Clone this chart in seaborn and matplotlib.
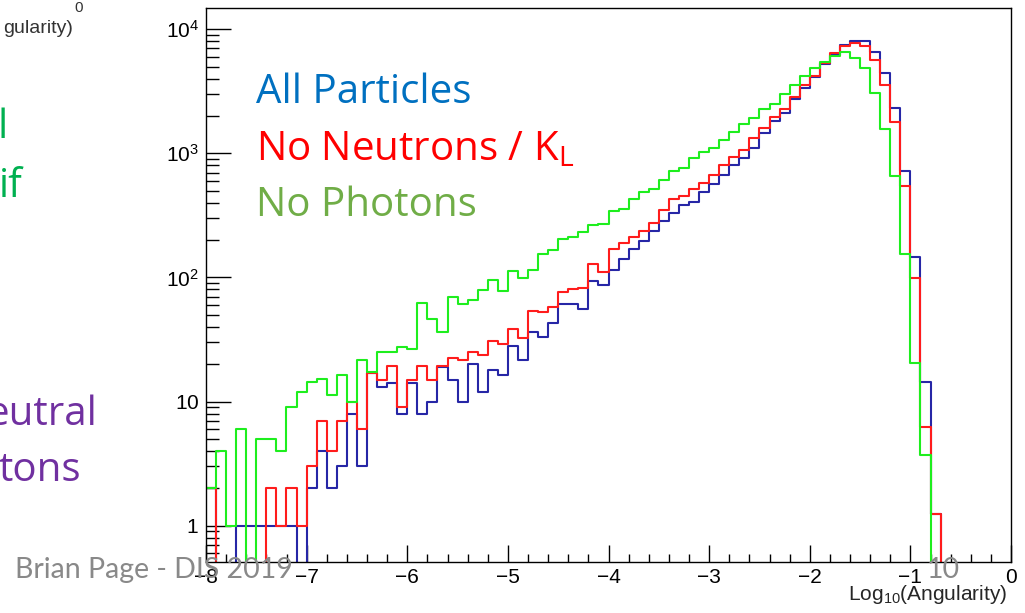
import numpy as np
import pandas as pd
import matplotlib
matplotlib.use("Agg")
import matplotlib.pyplot as plt
from matplotlib.ticker import FixedLocator, FixedFormatter, LogLocator, MultipleLocator, NullFormatter
import seaborn as sns

# ---------------- data ----------------
x_min, x_max, n_bins = -8.0, 0.0, 80

all_particles = [
    2, 0, 0, 1, 1, 1, 1, 1, 1, 0,
    2, 4, 2, 3, 8, 3, 17, 13, 14, 8,
    14, 8, 10, 19, 15, 10, 20, 12, 18, 16.5,
    28, 21.5, 36, 33, 43, 61, 61, 56, 93, 87,
    115, 141, 170, 196, 236, 284, 333, 381, 405, 492,
    566, 665, 800, 923, 1112, 1449, 1823, 2129, 2724, 3380,
    4100, 5220, 6170, 7430, 8050, 8050, 6490, 4420, 2306, 720,
    147, 14.3, 1.25, 0, 0, 0, 0, 0, 0, 0,
]
no_neutrons = [
    2, 0, 0, 0, 0, 0, 2, 1, 2, 1,
    3, 7, 4, 7, 10, 6, 17, 15, 19.5, 9,
    15, 19.5, 15, 19.5, 22.5, 21.7, 25, 23.5, 30.7, 29.3,
    38.3, 32.6, 54, 53, 57.6, 77, 80, 82.6, 129, 110,
    169, 188, 211, 236, 276, 347, 425, 453, 512, 577,
    665, 800, 940, 1057, 1338, 1611, 1977, 2293, 2843, 3533,
    4200, 5290, 6370, 7250, 7670, 7300, 5650, 3556, 1789, 545,
    99, 6.25, 1.25, 0, 0, 0, 0, 0, 0, 0,
]
no_photons = [
    2, 4, 1, 6, 0, 5, 5, 4, 9, 12,
    14.4, 15.2, 11.3, 16.4, 10, 21.5, 17.4, 25.3, 25.3, 27.5,
    26.4, 62.5, 46.4, 36.2, 69.3, 60.6, 66.1, 79.5, 95.7, 78,
    113, 99, 115, 153, 167, 205, 211, 232, 264, 270,
    343, 353, 431, 487, 519, 609, 720, 766, 912, 1025,
    1112, 1274, 1497, 1714, 1916, 2264, 2484, 3030, 3556, 4205,
    4822, 5452, 6030, 6490, 5900, 4830, 3080, 1563, 656, 153,
    20.3, 3.7, 0, 0, 0, 0, 0, 0, 0, 0,
]

series_names = ["All Particles", "No Neutrons / K", "No Photons"]
x_ticks = [-8, -7, -6, -5, -4, -3, -2, -1, 0]
x_tick_labels = ["\u22128", "\u22127", "\u22126", "\u22125", "\u22124", "\u22123", "\u22122", "\u22121", "0"]
y_ticks = [1, 10, 100, 1000, 10000]
y_tick_labels = [r"$\mathregular{1}$", r"$\mathregular{10}$", r"$\mathregular{10^{2}}$",
                 r"$\mathregular{10^{3}}$", r"$\mathregular{10^{4}}$"]
x_title = r"Log$_{\mathregular{10}}$(Angularity)"

# ---------------- style ----------------
sns.set_style("white")
plt.rcParams["font.family"] = ["Liberation Sans", "DejaVu Sans"]
plt.rcParams["mathtext.fontset"] = "custom"
plt.rcParams["mathtext.rm"] = "Liberation Sans"
plt.rcParams["mathtext.it"] = "Liberation Sans:italic"
plt.rcParams["mathtext.bf"] = "Liberation Sans:bold"

W, H = 1025, 613
fig = plt.figure(figsize=(W / 100, H / 100), dpi=100)
fig.patch.set_facecolor("white")
ax = fig.add_axes([206 / W, 1 - 562 / H, (1011 - 206) / W, (562 - 8) / H])

bin_w = (x_max - x_min) / n_bins
centers = x_min + bin_w * (np.arange(n_bins) + 0.5)

line_colors = ["#2626a6", "#ff1c1c", "#1eee1e"]
for vals, col, name in zip([all_particles, no_neutrons, no_photons], line_colors, series_names):
    df = pd.DataFrame({"x": centers, "w": np.asarray(vals, dtype=float)})
    sns.histplot(data=df, x="x", weights="w", bins=n_bins, binrange=(x_min, x_max),
                 element="step", fill=False, color=col, linewidth=1.5, ax=ax, label=name)

ax.set_yscale("log")
ax.set_xlim(x_min, x_max)
ax.set_ylim(0.51, 14800)

ax.xaxis.set_major_locator(FixedLocator(x_ticks))
ax.xaxis.set_major_formatter(FixedFormatter(x_tick_labels))
ax.xaxis.set_minor_locator(MultipleLocator(0.2))
ax.yaxis.set_major_locator(FixedLocator(y_ticks))
ax.yaxis.set_major_formatter(FixedFormatter(y_tick_labels))
ax.yaxis.set_minor_locator(LogLocator(base=10, subs=np.arange(2, 10)))
ax.yaxis.set_minor_formatter(NullFormatter())

ax.tick_params(axis="both", which="both", direction="in", colors="black", width=1.0,
               top=False, right=False, bottom=True, left=True)
ax.tick_params(axis="x", which="major", length=12, pad=4, labelsize=15)
ax.tick_params(axis="x", which="minor", length=6)
ax.tick_params(axis="y", which="major", length=18, pad=5, labelsize=15)
ax.tick_params(axis="y", which="minor", length=9.5)
for s in ax.spines.values():
    s.set_color("black")
    s.set_linewidth(1.0)

ax.set_ylabel("")
ax.set_xlabel(x_title, fontsize=15, ha="right", va="baseline")
ax.xaxis.set_label_coords(0.995, -0.069)

# ---------------- slide text ----------------
def fx(x):
    return x / W

def fy(y):
    return 1 - y / H

slide_font = ["Open Sans", "DejaVu Sans"]
foot_font = ["Lato", "DejaVu Sans"]
fs = 29
fig.text(fx(256), fy(103), "All Particles", color="#0070C0", fontsize=fs, family=slide_font, va="baseline")
fig.text(fx(256), fy(160), "No Neutrons / K$_\\mathregular{L}$", color="#FF0000", fontsize=fs,
         family=slide_font, va="baseline")
fig.text(fx(256), fy(216), "No Photons", color="#70AD47", fontsize=fs, family=slide_font, va="baseline")

# cut-off slide text on the left
fig.text(fx(8), fy(138), "l", color="#00B050", fontsize=fs, family=slide_font, va="baseline", ha="right")
fig.text(fx(-1), fy(197), "if", color="#00B050", fontsize=fs, family=slide_font, va="baseline")
fig.text(fx(98), fy(425), "eutral", color="#7030A0", fontsize=fs, family=slide_font, va="baseline", ha="right")
fig.text(fx(81), fy(481), "tons", color="#7030A0", fontsize=fs, family=slide_font, va="baseline", ha="right")
fig.text(fx(73), fy(33), "gularity)", color="#333333", fontsize=14, va="baseline", ha="right")
fig.text(fx(74), fy(12), "0", color="#333333", fontsize=11, va="baseline")

# footer
fig.text(fx(15), fy(578), "Brian Page - DIS 2019", color="#898989", fontsize=20.5, family=foot_font,
         va="baseline", zorder=10)
fig.text(fx(927), fy(578), "10", color="#898989", fontsize=20.5, family=foot_font, va="baseline", zorder=10)

fig.savefig("out.png", dpi=100, facecolor="white")
